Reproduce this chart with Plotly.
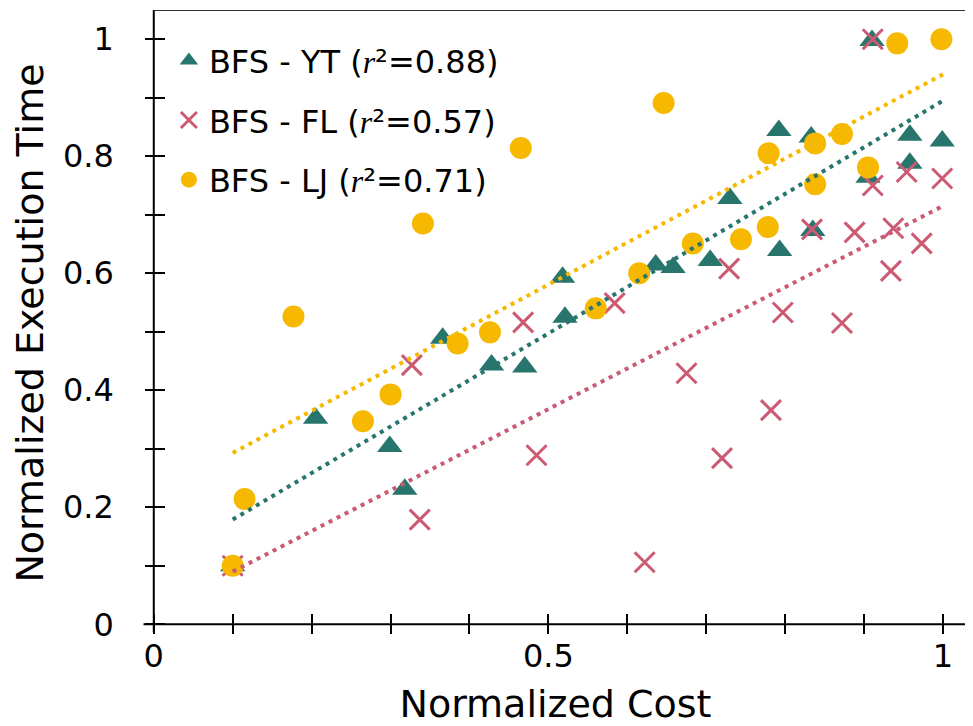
import plotly.graph_objects as go

# ---- data ----
yt_x = [0.100, 0.205, 0.299, 0.318, 0.366, 0.428, 0.470, 0.518, 0.521, 0.636, 0.658,
        0.705, 0.730, 0.793, 0.792, 0.833, 0.835, 0.905, 0.910, 0.958, 0.958, 0.999]
yt_y = [0.100, 0.352, 0.304, 0.231, 0.489, 0.443, 0.440, 0.593, 0.525, 0.614, 0.610,
        0.622, 0.728, 0.639, 0.844, 0.833, 0.673, 0.764, 0.998, 0.836, 0.788, 0.826]

fl_x = [0.100, 0.327, 0.337, 0.468, 0.485, 0.584, 0.622, 0.675, 0.720, 0.729, 0.782,
        0.797, 0.834, 0.872, 0.888, 0.911, 0.911, 0.934, 0.937, 0.954, 0.973, 0.999]
fl_y = [0.100, 0.443, 0.179, 0.516, 0.289, 0.549, 0.106, 0.429, 0.284, 0.608, 0.366,
        0.533, 0.675, 0.515, 0.670, 0.750, 1.000, 0.604, 0.677, 0.773, 0.651, 0.762]

lj_x = [0.100, 0.115, 0.177, 0.265, 0.300, 0.341, 0.385, 0.426, 0.465, 0.560, 0.615,
        0.646, 0.683, 0.744, 0.778, 0.779, 0.838, 0.838, 0.872, 0.905, 0.942, 0.998]
lj_y = [0.100, 0.214, 0.526, 0.347, 0.393, 0.685, 0.480, 0.499, 0.814, 0.540, 0.600,
        0.891, 0.651, 0.658, 0.679, 0.805, 0.822, 0.752, 0.838, 0.781, 0.993, 1.000]

fit_x = [0.1, 1.0]
yt_fit = [0.179, 0.895]
fl_fit = [0.090, 0.715]
lj_fit = [0.293, 0.940]

series_names = ["BFS - YT", "BFS - FL", "BFS - LJ"]
r2_values = ["0.88", "0.57", "0.71"]

x_ticks = [0.0, 0.1, 0.2, 0.3, 0.4, 0.5, 0.6, 0.7, 0.8, 0.9, 1.0]
x_ticktext = ["0", "", "", "", "", "0.5", "", "", "", "", "1"]
y_ticks = [0.0, 0.1, 0.2, 0.3, 0.4, 0.5, 0.6, 0.7, 0.8, 0.9, 1.0]
y_ticktext = ["0", "", "0.2", "", "0.4", "", "0.6", "", "0.8", "", "1"]

TEAL = "#27756d"
PINK = "#cb5a72"
GOLD = "#f7b800"
FONT = "DejaVu Sans"

# figure geometry (page body adds an 8px offset)
W, H = 965, 718
ML, MR, MT, MB = 130, 0, 2, 90
PW, PH = W - ML - MR, H - MT - MB

x_range = [-0.02, 1.038]
y_range = [-0.02, 1.05]
overhang = 0.013   # how far axis lines run past the origin
half_tick = 10     # ticks cross the axis lines by this many px each side

x_zero_frac = (0 - y_range[0]) / (y_range[1] - y_range[0])   # paper y of data y=0
y_zero_frac = (0 - x_range[0]) / (x_range[1] - x_range[0])   # paper x of data x=0
xaxis_pos = x_zero_frac - half_tick / PH
yaxis_pos = y_zero_frac - half_tick / PW


def label(i):
    return (f"{series_names[i]} (<span style=\"font-family:Liberation Serif;font-style:italic\">r</span>"
            f"²={r2_values[i]})")


fig = go.Figure()

fig.add_trace(go.Scatter(
    x=yt_x, y=yt_y, mode="markers", name=label(0), legendgroup="yt",
    marker=dict(symbol="triangle-up", size=22, color=TEAL, line=dict(width=0)),
))
fig.add_trace(go.Scatter(
    x=fl_x, y=fl_y, mode="markers", name=label(1), legendgroup="fl",
    marker=dict(symbol="x-thin-open", size=20, color=PINK, line=dict(width=3, color=PINK)),
))
fig.add_trace(go.Scatter(
    x=lj_x, y=lj_y, mode="markers", name=label(2), legendgroup="lj",
    marker=dict(symbol="circle", size=22, color=GOLD, line=dict(width=0)),
))

for fy, col in [(yt_fit, TEAL), (fl_fit, PINK), (lj_fit, GOLD)]:
    fig.add_trace(go.Scatter(
        x=fit_x, y=fy, mode="lines", showlegend=False, hoverinfo="skip",
        line=dict(color=col, width=4, dash="4px,5px"),
    ))

tick_common = dict(ticks="inside", ticklen=2 * half_tick, tickwidth=2, tickcolor="black",
                   showline=False, showgrid=False, zeroline=False, automargin=False)

fig.update_layout(
    width=W, height=H,
    margin=dict(l=ML, r=MR, t=MT, b=MB, autoexpand=False),
    paper_bgcolor="white", plot_bgcolor="white",
    font=dict(family=FONT, color="black", size=32),
    showlegend=True,
    legend=dict(
        x=0.037, y=0.963, xanchor="left", yanchor="top",
        bgcolor="rgba(0,0,0,0)", borderwidth=0,
        font=dict(family=FONT, size=32, color="black"),
        tracegroupgap=15, itemwidth=30,
    ),
    xaxis=dict(
        range=x_range, anchor="free", position=xaxis_pos,
        tickvals=x_ticks, ticktext=x_ticktext, ticklabelstandoff=0,
        tickfont=dict(family=FONT, size=32, color="black"),
        title=dict(text="Normalized Cost", font=dict(family=FONT, size=38, color="black"), standoff=18),
        **tick_common,
    ),
    yaxis=dict(
        range=y_range, anchor="free", position=yaxis_pos,
        tickvals=y_ticks, ticktext=y_ticktext, ticklabelstandoff=30,
        tickfont=dict(family=FONT, size=32, color="black"),
        title=dict(text="Normalized Execution Time", font=dict(family=FONT, size=38, color="black"), standoff=14),
        **tick_common,
    ),
)

# axis lines through the origin and the top frame line
fig.add_shape(type="line", xref="x", yref="y", x0=-overhang, x1=x_range[1], y0=0, y1=0,
              line=dict(color="black", width=2), layer="above")
fig.add_shape(type="line", xref="x", yref="y", x0=0, x1=0, y0=-overhang, y1=y_range[1],
              line=dict(color="black", width=2), layer="above")
fig.add_shape(type="line", xref="x", yref="y", x0=0, x1=x_range[1], y0=y_range[1], y1=y_range[1],
              line=dict(color="#333333", width=2), layer="above")

fig.write_html("out.html")
